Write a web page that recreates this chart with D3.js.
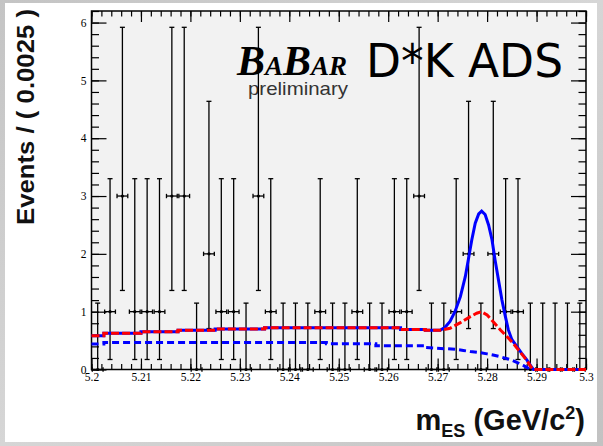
<!DOCTYPE html>
<html>
<head>
<meta charset="utf-8">
<script src="https://cdn.jsdelivr.net/npm/d3@7"></script>
<style>
  html, body { margin: 0; padding: 0; background: #c8c8c8; }
  svg { display: block; }
</style>
</head>
<body>
<svg id="chart" width="603" height="446"></svg>
<script>
// m_ES histogram: 40 bins of 0.0025 GeV/c^2 from 5.20 to 5.30
const binLow = 5.2;
const binWidth = 0.0025;
const counts = [0, 1, 3, 1, 1, 1, 3, 3, 0, 2,
                1, 1, 0, 3, 1, 0, 0, 0, 1, 0,
                0, 1, 0, 0, 1, 1, 3, 0, 0, 1,
                2, 0, 2, 1, 1, 0, 0, 0, 0, 0];

// Poisson 68% intervals [lower, upper] for small counts
const poissonBand = {0: [0, 1.148], 1: [0.173, 3.300], 2: [0.708, 4.638], 3: [1.367, 5.918]};

// Fit curves, [mES, events per bin]
const sideband = [[5.2000, 0.585], [5.2025, 0.585], [5.2025, 0.627], [5.2100, 0.627],
                  [5.2100, 0.655], [5.2175, 0.655], [5.2175, 0.680], [5.2250, 0.680],
                  [5.2250, 0.700], [5.2350, 0.700], [5.2350, 0.722], [5.2625, 0.722],
                  [5.2625, 0.690], [5.2675, 0.690], [5.2675, 0.680], [5.2705, 0.680]];

const totalPeak = [[5.2715, 0.73], [5.2725, 0.83], [5.2735, 1.00], [5.2746, 1.26],
                   [5.2756, 1.61], [5.2762, 1.90], [5.2769, 2.24], [5.2776, 2.53],
                   [5.2783, 2.69], [5.2789, 2.74], [5.2796, 2.68], [5.2803, 2.50],
                   [5.2810, 2.24], [5.2816, 1.90], [5.2823, 1.55], [5.2830, 1.20],
                   [5.2837, 0.914], [5.2843, 0.684], [5.2850, 0.52], [5.2860, 0.40],
                   [5.2870, 0.28], [5.2880, 0.17], [5.2891, 0.03], [5.2894, 0], [5.3000, 0]];

const bkgPeak = [[5.2725, 0.713], [5.2746, 0.81], [5.2766, 0.914], [5.2779, 0.973],
                 [5.2788, 1.00], [5.2800, 0.944], [5.2812, 0.83], [5.2827, 0.684],
                 [5.2840, 0.57], [5.2853, 0.45], [5.2867, 0.30], [5.2880, 0.16],
                 [5.2890, 0.03], [5.2893, 0], [5.3000, 0]];

const combBkg = [[5.2000, 0.44], [5.2025, 0.44], [5.2025, 0.465], [5.2475, 0.465],
                 [5.2475, 0.445], [5.2575, 0.445], [5.2575, 0.41], [5.2675, 0.41],
                 [5.2675, 0.38], [5.2735, 0.35], [5.2752, 0.33], [5.2766, 0.31],
                 [5.2786, 0.29], [5.2800, 0.27], [5.2812, 0.25], [5.2827, 0.22],
                 [5.2847, 0.17], [5.2861, 0.12], [5.2873, 0.07], [5.2883, 0.025],
                 [5.2889, 0], [5.3000, 0]];

const xTickValues = [5.20, 5.21, 5.22, 5.23, 5.24, 5.25, 5.26, 5.27, 5.28, 5.29, 5.30];
const xTickLabels = ["5.2", "5.21", "5.22", "5.23", "5.24", "5.25", "5.26", "5.27", "5.28", "5.29", "5.3"];
const yTickValues = [0, 1, 2, 3, 4, 5, 6];
const yTickLabels = ["0", "1", "2", "3", "4", "5", "6"];

const W = 603, H = 446;
const frame = {left: 91.5, right: 586, top: 11, bottom: 369.5};

const svg = d3.select("#chart");

// slide background and canvas
const grad = svg.append("defs").append("linearGradient")
  .attr("id", "slideGrey").attr("x1", 0).attr("y1", 0).attr("x2", 1).attr("y2", 1);
grad.append("stop").attr("offset", 0).attr("stop-color", "#c4c4c4");
grad.append("stop").attr("offset", 0.5).attr("stop-color", "#d6d6d6");
grad.append("stop").attr("offset", 1).attr("stop-color", "#c2c2c2");
svg.append("rect").attr("width", W).attr("height", H).attr("fill", "url(#slideGrey)");
svg.append("rect").attr("x", 5).attr("y", 3).attr("width", 592).attr("height", 439).attr("fill", "#ffffff");

const x = d3.scaleLinear().domain([5.2, 5.3]).range([frame.left, frame.right]);
const y = d3.scaleLinear().domain([0, 6.2]).range([frame.bottom, frame.top]);

// frame fill
svg.append("rect")
  .attr("x", frame.left).attr("y", frame.top)
  .attr("width", frame.right - frame.left).attr("height", frame.bottom - frame.top)
  .attr("fill", "#f2f2f2");

// logo and label
const logo = svg.append("text")
  .attr("x", 237).attr("y", 75)
  .attr("font-family", "'Liberation Serif', 'DejaVu Serif', serif")
  .attr("font-style", "italic").attr("font-weight", "bold")
  .attr("fill", "#000")
  .attr("textLength", 110).attr("lengthAdjust", "spacingAndGlyphs");
logo.append("tspan").attr("font-size", 42).text("B");
logo.append("tspan").attr("font-size", 27).text("A");
logo.append("tspan").attr("font-size", 42).text("B");
logo.append("tspan").attr("font-size", 27).text("AR");

svg.append("text")
  .attr("x", 248).attr("y", 95)
  .attr("font-family", "'Liberation Sans', Arial, sans-serif")
  .attr("font-size", 19).attr("fill", "#333")
  .attr("textLength", 100).attr("lengthAdjust", "spacingAndGlyphs")
  .text("preliminary");

svg.append("text")
  .attr("x", 366).attr("y", 77)
  .attr("font-family", "'DejaVu Sans', sans-serif")
  .attr("font-size", 46).attr("fill", "#000")
  .attr("textLength", 197).attr("lengthAdjust", "spacingAndGlyphs")
  .text("D*K ADS");

// axes with ticks drawn inward on all four sides
const minorX = d3.range(0, 51).map(i => 5.2 + i * 0.002);
const minorY = d3.range(0, 32).map(i => i * 0.2);
const axisStyle = g => {
  g.select(".domain").remove();
  g.selectAll("line").attr("stroke", "#000").attr("stroke-width", 1.2);
};
const tickFont = g => g.selectAll("text")
  .attr("font-family", "'Liberation Serif', 'Times New Roman', serif")
  .attr("font-size", 11.5).attr("fill", "#000");

svg.append("g").attr("transform", `translate(0,${frame.bottom})`)
  .call(d3.axisBottom(x).tickValues(minorX).tickSizeInner(-5.5).tickSizeOuter(0).tickFormat(""))
  .call(axisStyle);
svg.append("g").attr("transform", `translate(0,${frame.bottom})`)
  .call(d3.axisBottom(x).tickValues(xTickValues).tickSizeInner(-11).tickSizeOuter(0).tickPadding(3.5)
    .tickFormat((d, i) => xTickLabels[i]))
  .call(axisStyle).call(tickFont);
svg.append("g").attr("transform", `translate(0,${frame.top})`)
  .call(d3.axisTop(x).tickValues(minorX).tickSizeInner(-5.5).tickSizeOuter(0).tickFormat(""))
  .call(axisStyle);
svg.append("g").attr("transform", `translate(0,${frame.top})`)
  .call(d3.axisTop(x).tickValues(xTickValues).tickSizeInner(-11).tickSizeOuter(0).tickFormat(""))
  .call(axisStyle);

svg.append("g").attr("transform", `translate(${frame.left},0)`)
  .call(d3.axisLeft(y).tickValues(minorY).tickSizeInner(-7.5).tickSizeOuter(0).tickFormat(""))
  .call(axisStyle);
svg.append("g").attr("transform", `translate(${frame.left},0)`)
  .call(d3.axisLeft(y).tickValues(yTickValues).tickSizeInner(-15).tickSizeOuter(0).tickPadding(5)
    .tickFormat((d, i) => yTickLabels[i]))
  .call(axisStyle).call(tickFont);
svg.append("g").attr("transform", `translate(${frame.right},0)`)
  .call(d3.axisRight(y).tickValues(minorY).tickSizeInner(-7.5).tickSizeOuter(0).tickFormat(""))
  .call(axisStyle);
svg.append("g").attr("transform", `translate(${frame.right},0)`)
  .call(d3.axisRight(y).tickValues(yTickValues).tickSizeInner(-15).tickSizeOuter(0).tickFormat(""))
  .call(axisStyle);

// frame border
svg.append("rect")
  .attr("x", frame.left).attr("y", frame.top)
  .attr("width", frame.right - frame.left).attr("height", frame.bottom - frame.top)
  .attr("fill", "none").attr("stroke", "#000").attr("stroke-width", 1.5);

// data points with Poisson error bars
const points = counts.map((n, i) => ({
  m: binLow + (i + 0.5) * binWidth,
  lo: binLow + i * binWidth,
  hi: binLow + (i + 1) * binWidth,
  n: n,
  eLo: n - poissonBand[n][0],
  eHi: poissonBand[n][1] - n
}));

const dataG = svg.append("g").attr("stroke", "#000").attr("stroke-width", 1.3).attr("fill", "none");
const pt = dataG.selectAll("g").data(points).join("g");
pt.append("line")
  .attr("x1", d => x(d.m)).attr("x2", d => x(d.m))
  .attr("y1", d => y(d.n - d.eLo)).attr("y2", d => y(d.n + d.eHi));
pt.append("line")
  .attr("x1", d => x(d.m) - 2.5).attr("x2", d => x(d.m) + 2.5)
  .attr("y1", d => y(d.n + d.eHi)).attr("y2", d => y(d.n + d.eHi));
pt.filter(d => d.n - d.eLo > 0).append("line")
  .attr("x1", d => x(d.m) - 2.5).attr("x2", d => x(d.m) + 2.5)
  .attr("y1", d => y(d.n - d.eLo)).attr("y2", d => y(d.n - d.eLo));
pt.append("line")
  .attr("x1", d => x(d.lo) + 0.8).attr("x2", d => x(d.hi) - 0.8)
  .attr("y1", d => y(d.n)).attr("y2", d => y(d.n));
pt.append("line")
  .attr("x1", d => x(d.lo) + 0.8).attr("x2", d => x(d.lo) + 0.8)
  .attr("y1", d => y(d.n) - 2.2).attr("y2", d => y(d.n) + 2.2);
pt.append("line")
  .attr("x1", d => x(d.hi) - 0.8).attr("x2", d => x(d.hi) - 0.8)
  .attr("y1", d => y(d.n) - 2.2).attr("y2", d => y(d.n) + 2.2);
pt.append("circle")
  .attr("cx", d => x(d.m)).attr("cy", d => y(d.n)).attr("r", 1.6)
  .attr("fill", "#000").attr("stroke", "none");

// fit curves
const line = d3.line().x(d => x(d[0])).y(d => y(d[1]));
svg.append("path").datum(sideband.concat(totalPeak))
  .attr("d", line).attr("fill", "none")
  .attr("stroke", "#0000ff").attr("stroke-width", 3);
svg.append("path").datum(combBkg)
  .attr("d", line).attr("fill", "none")
  .attr("stroke", "#0000ff").attr("stroke-width", 3).attr("stroke-dasharray", "7,4");
svg.append("path").datum(sideband.concat(bkgPeak))
  .attr("d", line).attr("fill", "none")
  .attr("stroke", "#ff0000").attr("stroke-width", 3).attr("stroke-dasharray", "8,3");

// axis titles
svg.append("text")
  .attr("transform", "translate(34,9) rotate(-90)")
  .attr("text-anchor", "end")
  .attr("font-family", "'Liberation Sans', Arial, sans-serif")
  .attr("font-weight", "bold").attr("font-size", 24).attr("fill", "#111")
  .attr("textLength", 216).attr("lengthAdjust", "spacingAndGlyphs")
  .text("Events / ( 0.0025 )");

const xt = svg.append("text")
  .attr("x", 585).attr("y", 430)
  .attr("text-anchor", "end")
  .attr("font-family", "'Liberation Sans', Arial, sans-serif")
  .attr("font-weight", "bold").attr("font-size", 29).attr("fill", "#111");
xt.append("tspan").text("m");
xt.append("tspan").attr("font-size", 18).attr("dy", 7).text("ES");
xt.append("tspan").attr("dy", -7).text(" (GeV/c");
xt.append("tspan").attr("font-size", 18).attr("dy", -11).text("2");
xt.append("tspan").attr("dy", 11).text(")");
</script>
</body>
</html>
